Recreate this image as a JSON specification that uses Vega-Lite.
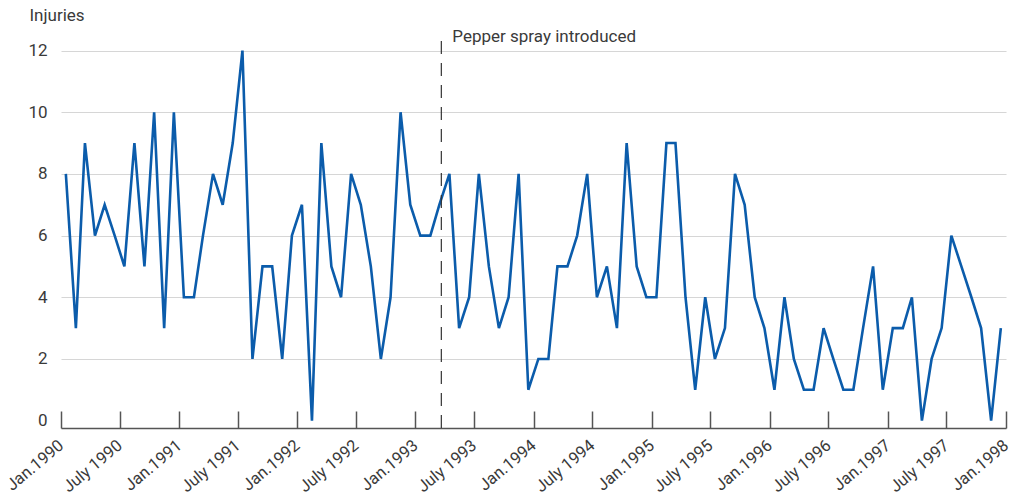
{
  "$schema": "https://vega.github.io/schema/vega-lite/v6.json",
  "width": 945,
  "height": 387,
  "autosize": {"type": "none"},
  "padding": {"left": 61, "top": 41, "right": 16, "bottom": 73},
  "config": {
    "view": {"stroke": null},
    "font": "Roboto",
    "text": {"font": "Roboto"}
  },
  "datasets": {
    "inj": [
      {"date": "1990-01-16", "injuries": 8}, {"date": "1990-02-16", "injuries": 3}, {"date": "1990-03-16", "injuries": 9}, {"date": "1990-04-16", "injuries": 6}, {"date": "1990-05-16", "injuries": 7}, {"date": "1990-06-16", "injuries": 6}, {"date": "1990-07-16", "injuries": 5}, {"date": "1990-08-16", "injuries": 9}, {"date": "1990-09-16", "injuries": 5}, {"date": "1990-10-16", "injuries": 10}, {"date": "1990-11-16", "injuries": 3}, {"date": "1990-12-16", "injuries": 10},
      {"date": "1991-01-16", "injuries": 4}, {"date": "1991-02-16", "injuries": 4}, {"date": "1991-03-16", "injuries": 6}, {"date": "1991-04-16", "injuries": 8}, {"date": "1991-05-16", "injuries": 7}, {"date": "1991-06-16", "injuries": 9}, {"date": "1991-07-16", "injuries": 12}, {"date": "1991-08-16", "injuries": 2}, {"date": "1991-09-16", "injuries": 5}, {"date": "1991-10-16", "injuries": 5}, {"date": "1991-11-16", "injuries": 2}, {"date": "1991-12-16", "injuries": 6},
      {"date": "1992-01-16", "injuries": 7}, {"date": "1992-02-16", "injuries": 0}, {"date": "1992-03-16", "injuries": 9}, {"date": "1992-04-16", "injuries": 5}, {"date": "1992-05-16", "injuries": 4}, {"date": "1992-06-16", "injuries": 8}, {"date": "1992-07-16", "injuries": 7}, {"date": "1992-08-16", "injuries": 5}, {"date": "1992-09-16", "injuries": 2}, {"date": "1992-10-16", "injuries": 4}, {"date": "1992-11-16", "injuries": 10}, {"date": "1992-12-16", "injuries": 7},
      {"date": "1993-01-16", "injuries": 6}, {"date": "1993-02-16", "injuries": 6}, {"date": "1993-03-16", "injuries": 7}, {"date": "1993-04-16", "injuries": 8}, {"date": "1993-05-16", "injuries": 3}, {"date": "1993-06-16", "injuries": 4}, {"date": "1993-07-16", "injuries": 8}, {"date": "1993-08-16", "injuries": 5}, {"date": "1993-09-16", "injuries": 3}, {"date": "1993-10-16", "injuries": 4}, {"date": "1993-11-16", "injuries": 8}, {"date": "1993-12-16", "injuries": 1},
      {"date": "1994-01-16", "injuries": 2}, {"date": "1994-02-16", "injuries": 2}, {"date": "1994-03-16", "injuries": 5}, {"date": "1994-04-16", "injuries": 5}, {"date": "1994-05-16", "injuries": 6}, {"date": "1994-06-16", "injuries": 8}, {"date": "1994-07-16", "injuries": 4}, {"date": "1994-08-16", "injuries": 5}, {"date": "1994-09-16", "injuries": 3}, {"date": "1994-10-16", "injuries": 9}, {"date": "1994-11-16", "injuries": 5}, {"date": "1994-12-16", "injuries": 4},
      {"date": "1995-01-16", "injuries": 4}, {"date": "1995-02-16", "injuries": 9}, {"date": "1995-03-16", "injuries": 9}, {"date": "1995-04-16", "injuries": 4}, {"date": "1995-05-16", "injuries": 1}, {"date": "1995-06-16", "injuries": 4}, {"date": "1995-07-16", "injuries": 2}, {"date": "1995-08-16", "injuries": 3}, {"date": "1995-09-16", "injuries": 8}, {"date": "1995-10-16", "injuries": 7}, {"date": "1995-11-16", "injuries": 4}, {"date": "1995-12-16", "injuries": 3},
      {"date": "1996-01-16", "injuries": 1}, {"date": "1996-02-16", "injuries": 4}, {"date": "1996-03-16", "injuries": 2}, {"date": "1996-04-16", "injuries": 1}, {"date": "1996-05-16", "injuries": 1}, {"date": "1996-06-16", "injuries": 3}, {"date": "1996-07-16", "injuries": 2}, {"date": "1996-08-16", "injuries": 1}, {"date": "1996-09-16", "injuries": 1}, {"date": "1996-10-16", "injuries": 3}, {"date": "1996-11-16", "injuries": 5}, {"date": "1996-12-16", "injuries": 1},
      {"date": "1997-01-16", "injuries": 3}, {"date": "1997-02-16", "injuries": 3}, {"date": "1997-03-16", "injuries": 4}, {"date": "1997-04-16", "injuries": 0}, {"date": "1997-05-16", "injuries": 2}, {"date": "1997-06-16", "injuries": 3}, {"date": "1997-07-16", "injuries": 6}, {"date": "1997-08-16", "injuries": 5}, {"date": "1997-09-16", "injuries": 4}, {"date": "1997-10-16", "injuries": 3}, {"date": "1997-11-16", "injuries": 0}, {"date": "1997-12-16", "injuries": 3}
    ],
    "events": [
      {"date": "1993-03-22", "event": "Pepper spray introduced", "top": 12.31}
    ]
  },
  "layer": [
    {
      "data": {"name": "inj"},
      "mark": {"type": "line", "color": "#0b5cab", "strokeWidth": 2.6, "strokeJoin": "miter", "clip": false},
      "encoding": {
        "x": {
          "field": "date",
          "type": "temporal",
          "scale": {"type": "utc", "domain": ["1990-01-01", "1998-01-01"], "nice": false},
          "axis": {
            "title": null,
            "tickCount": {"interval": "month", "step": 6},
            "labelExpr": "(utcFormat(datum.value, '%m') == '01' ? 'Jan.' : 'July ') + utcFormat(datum.value, '%Y')",
            "labelAngle": -40,
            "labelAlign": "right",
            "labelBaseline": "middle",
            "labelPadding": 32,
            "labelFontSize": 16.5,
            "labelColor": "#3a3a3a",
            "labelFont": "Roboto",
            "labelOverlap": false,
            "labelFlush": false,
            "domainColor": "#555555",
            "domainWidth": 1.5,
            "tickColor": "#555555",
            "tickWidth": 1.5,
            "tickSize": -17,
            "grid": false
          }
        },
        "y": {
          "field": "injuries",
          "type": "quantitative",
          "scale": {"domain": [-0.24, 12.31], "nice": false, "zero": false},
          "axis": {
            "title": "Injuries",
            "titleAngle": 0,
            "titleAlign": "left",
            "titleBaseline": "alphabetic",
            "titleX": -32,
            "titleY": -21,
            "titleFontSize": 17,
            "titleFontWeight": "normal",
            "titleColor": "#3a3a3a",
            "titleFont": "Roboto",
            "values": [0, 2, 4, 6, 8, 10, 12],
            "ticks": false,
            "domain": false,
            "labelPadding": 14,
            "labelFontSize": 17,
            "labelColor": "#3a3a3a",
            "labelFont": "Roboto",
            "grid": true,
            "gridColor": "#d6d6d6",
            "gridWidth": 1.2,
            "gridOpacity": {"condition": {"test": "datum.value == 0", "value": 0}, "value": 1}
          }
        }
      }
    },
    {
      "data": {"name": "events"},
      "mark": {"type": "rule", "color": "#333333", "strokeWidth": 1.2, "strokeDash": [13, 9]},
      "encoding": {
        "x": {"field": "date", "type": "temporal"}
      }
    },
    {
      "data": {"name": "events"},
      "mark": {"type": "text", "align": "left", "baseline": "alphabetic", "dx": 11, "dy": 1, "fontSize": 17, "color": "#3a3a3a", "font": "Roboto"},
      "encoding": {
        "x": {"field": "date", "type": "temporal"},
        "y": {"field": "top", "type": "quantitative"},
        "text": {"field": "event"}
      }
    }
  ]
}
